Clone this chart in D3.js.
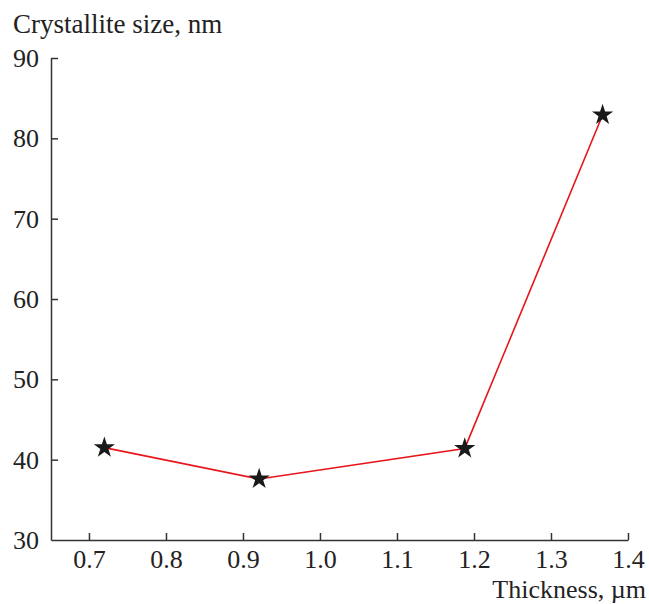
<!DOCTYPE html>
<html><head><meta charset="utf-8">
<script src="https://cdn.jsdelivr.net/npm/d3@7"></script>
<style>body{margin:0;background:#fff}svg{display:block}</style>
</head><body>
<script>
const thickness = [0.72, 0.921, 1.188, 1.367];
const crystalliteSize = [41.5, 37.6, 41.4, 82.9];
const xTicks = [0.7, 0.8, 0.9, 1.0, 1.1, 1.2, 1.3, 1.4];
const yTicks = [30, 40, 50, 60, 70, 80, 90];
const xTitle = "Thickness, µm";
const yTitle = "Crystallite size, nm";

const W = 649, H = 604;
const font = "'Liberation Serif', 'Times New Roman', serif";
const svg = d3.select("body").append("svg").attr("width", W).attr("height", H);
const x = d3.scaleLinear().domain([0.6507, 1.4]).range([51, 628]);
const y = d3.scaleLinear().domain([30, 90]).range([540, 58]);
const axisColor = "#333";

const gx = svg.append("g").attr("transform", `translate(0,${y(30)})`)
  .call(d3.axisBottom(x).tickValues(xTicks).tickFormat(d3.format(".1f")).tickSizeInner(-7).tickSizeOuter(0));
const gy = svg.append("g").attr("transform", `translate(${x.range()[0]},0)`)
  .call(d3.axisLeft(y).tickValues(yTicks).tickFormat(d3.format("d")).tickSizeInner(-7).tickSizeOuter(0));
[gx, gy].forEach(g => {
  g.select(".domain").attr("stroke", axisColor).attr("stroke-width", 1.5);
  g.selectAll(".tick line").attr("stroke", axisColor).attr("stroke-width", 1.5);
  g.selectAll(".tick text").attr("fill", "#222").style("font-family", font).style("font-size", "26px");
});
gx.selectAll(".tick text").attr("dy", null).attr("y", 28);
gy.selectAll(".tick text").attr("x", -12).attr("dy", "0.33em");
gy.selectAll(".tick").filter(d => d === 30).select("line").remove();

const pts = thickness.map((t, i) => [t, crystalliteSize[i]]);
svg.append("path").datum(pts)
  .attr("fill", "none").attr("stroke", "#e8151b").attr("stroke-width", 1.6)
  .attr("d", d3.line().x(d => x(d[0])).y(d => y(d[1])));

const star = d3.symbol().type(d3.symbolStar).size(140);
svg.selectAll(".pt").data(pts).enter().append("path")
  .attr("d", star).attr("fill", "#1a1a1a")
  .attr("transform", d => `translate(${x(d[0])},${y(d[1])})`);

svg.append("text").attr("x", 13).attr("y", 33).text(yTitle)
  .style("font-family", font).style("font-size", "27px").attr("fill", "#222");
svg.append("text").attr("x", 646).attr("y", 598).attr("text-anchor", "end").text(xTitle)
  .style("font-family", font).style("font-size", "26px").attr("fill", "#222");
</script>
</body></html>
